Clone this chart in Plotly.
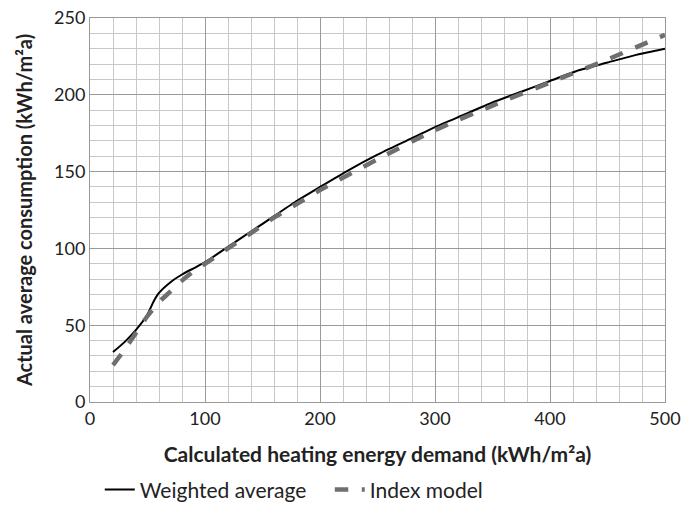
import plotly.graph_objects as go

wa_x = [20, 30, 40, 50, 55, 60, 70, 80, 90, 100, 120, 140, 160, 180, 200, 225, 250, 275, 300, 325, 350, 375, 400, 425, 450, 475, 500]
wa_y = [32.5, 39, 47, 57, 65, 71, 78, 83, 87, 91, 101, 111, 121, 131, 140, 151, 161, 170, 179, 187, 195, 202, 209, 216, 221, 226, 230]

im_x = [20, 30, 40, 50, 60, 70, 80, 90, 100, 120, 140, 160, 180, 200, 250, 300, 350, 400, 450, 500]
im_y = [24, 34, 45, 56, 65, 72, 79, 85, 90, 100, 110, 120, 129, 138, 158, 177, 193, 208, 223, 239]

x_ticks = [0, 100, 200, 300, 400, 500]
y_ticks = [0, 50, 100, 150, 200, 250]

FONT = "Lato, Open Sans, sans-serif"

fig = go.Figure()
fig.add_trace(go.Scatter(x=wa_x, y=wa_y, mode="lines", name="Weighted average",
                         line=dict(color="black", width=2, shape="spline", smoothing=0.5)))
fig.add_trace(go.Scatter(x=im_x, y=im_y, mode="lines", name="Index model",
                         line=dict(color="#6f6f6f", width=4.5, dash="dash", shape="spline", smoothing=0.6)))

fig.update_layout(
    width=683, height=506,
    margin=dict(l=90, r=18, t=18, b=104, autoexpand=False),
    paper_bgcolor="white", plot_bgcolor="white",
    font=dict(family=FONT, size=18, color="#222222"),
    legend=dict(orientation="h", x=0.017, xanchor="left", y=-0.229, yanchor="middle",
                font=dict(size=21, color="#222222"), entrywidth=185, entrywidthmode="pixels"),
    xaxis=dict(
        range=[0, 500], tickvals=x_ticks, ticks="", showline=True, linecolor="#999999", mirror=True,
        showgrid=True, gridcolor="#9a9a9a", gridwidth=1, zeroline=False, automargin=False,
        ticklabeloverflow="allow",
        minor=dict(dtick=20, showgrid=True, gridcolor="#c8c8c8", gridwidth=1),
        title=dict(text="<b>Calculated heating energy demand (kWh/m²a)</b>", font=dict(size=21, color="#222222"), standoff=19),
    ),
    yaxis=dict(
        range=[0, 250], tickvals=y_ticks, ticks="", showline=True, linecolor="#999999", mirror=True,
        showgrid=True, gridcolor="#9a9a9a", gridwidth=1, zeroline=False, automargin=False,
        ticklabeloverflow="allow",
        minor=dict(dtick=10, showgrid=True, gridcolor="#c8c8c8", gridwidth=1),
        title=dict(text="<b>Actual average consumption (kWh/m²a)</b>", font=dict(size=20, color="#222222"), standoff=16),
    ),
)

fig.write_html("out.html", config={"displayModeBar": False},
               post_script="document.body.style.margin='0';document.body.style.overflow='hidden';")
